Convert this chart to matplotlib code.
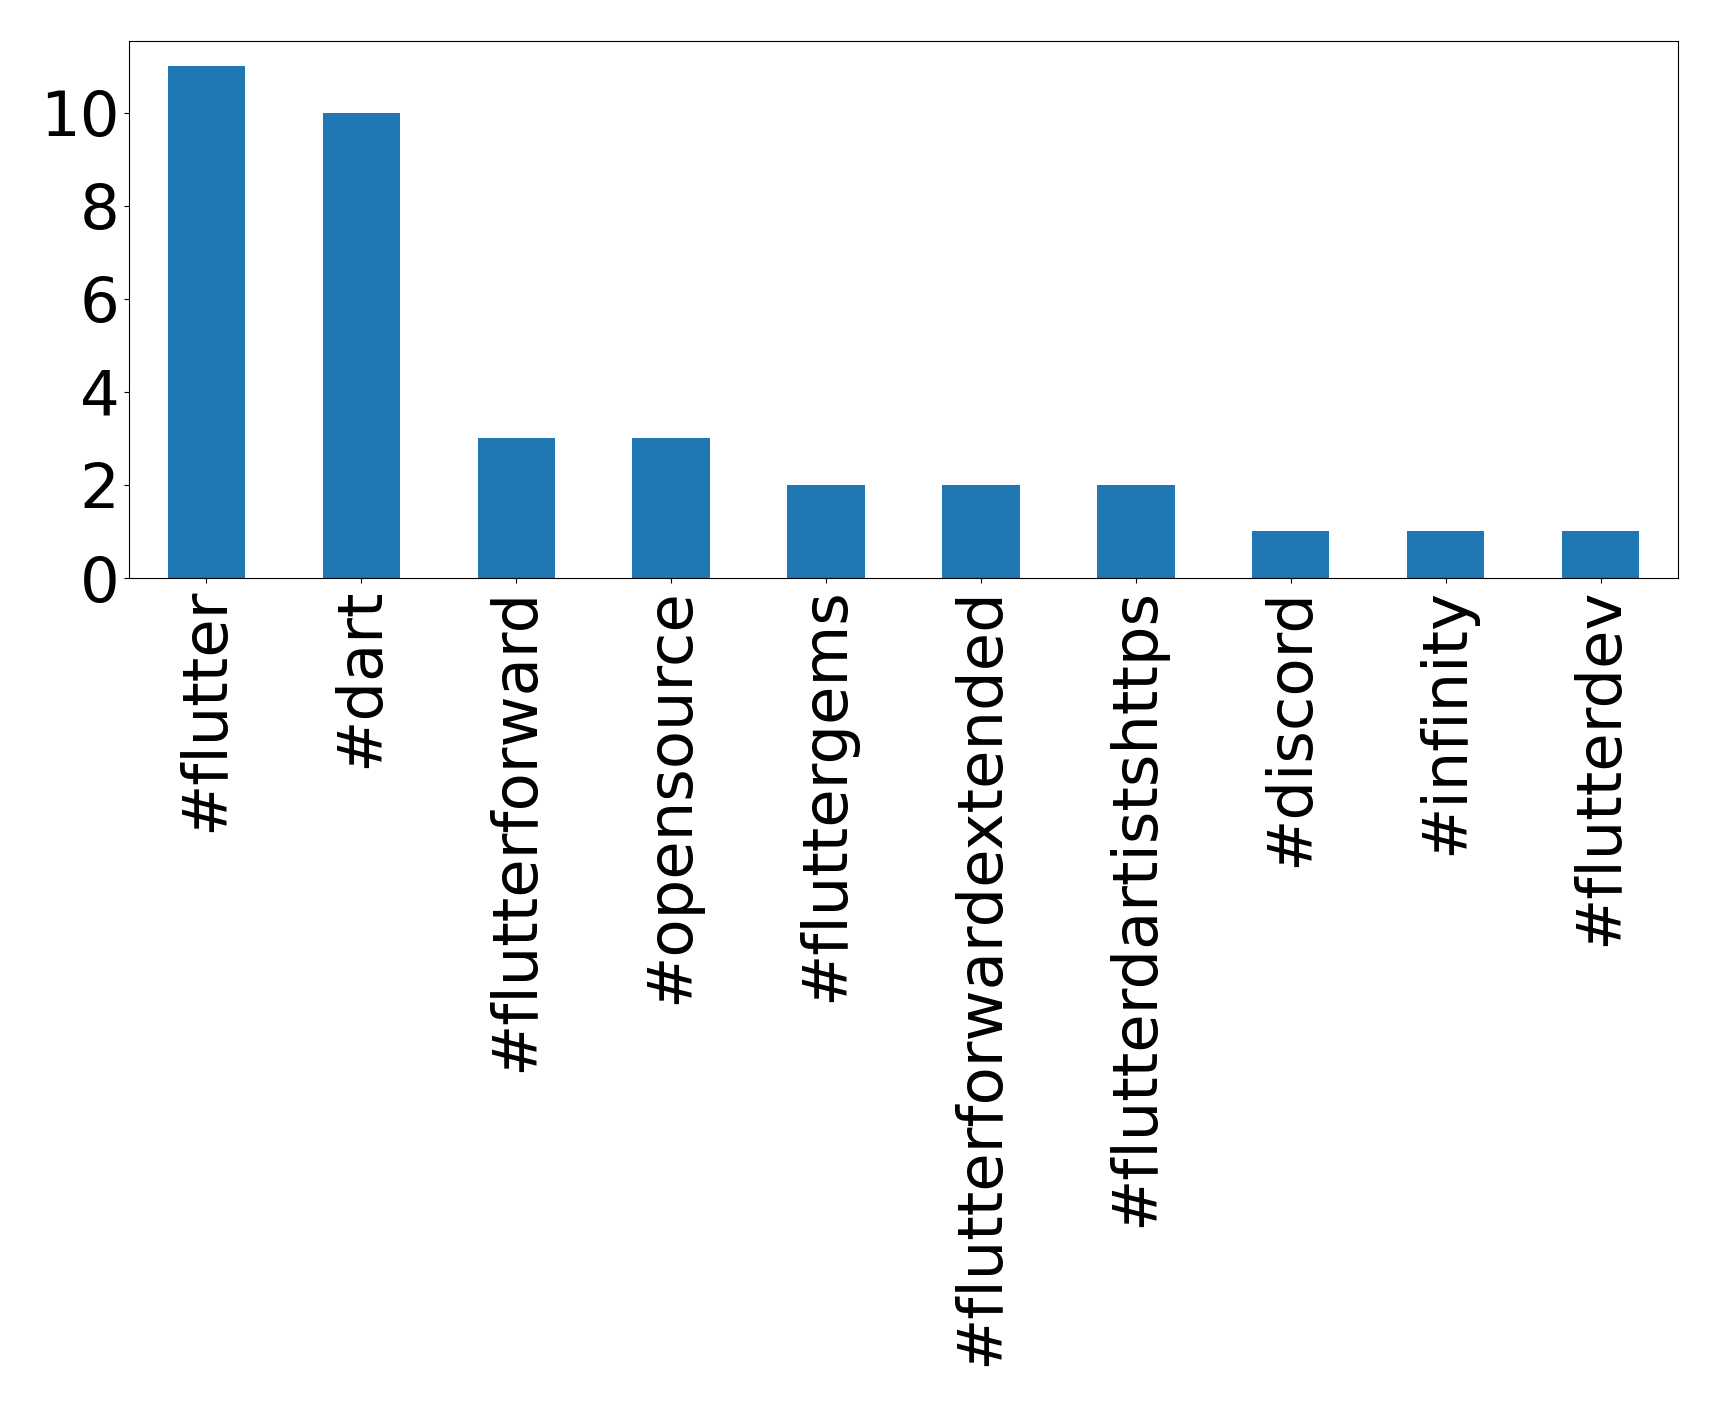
import pandas as pd
from matplotlib import pyplot as plt

hashtags = ['#flutter', '#dart', '#flutterforward', '#opensource', '#fluttergems',
            '#flutterforwardextended', '#flutterdartistshttps', '#discord',
            '#infinity', '#flutterdev']
counts = [11, 10, 3, 3, 2, 2, 2, 1, 1, 1]

serie = pd.Series(counts, index=hashtags)

fig = plt.figure(figsize=(17.19, 14.07), dpi=100)
ax = fig.add_axes([129 / 1719, 1 - 578 / 1407, (1678 - 129) / 1719, (578 - 40.5) / 1407])
serie.plot(kind='bar', ax=ax, fontsize=45, color='#1f77b4')
ax.set_yticks([0, 2, 4, 6, 8, 10])

fig.savefig('out.png', dpi=100)
